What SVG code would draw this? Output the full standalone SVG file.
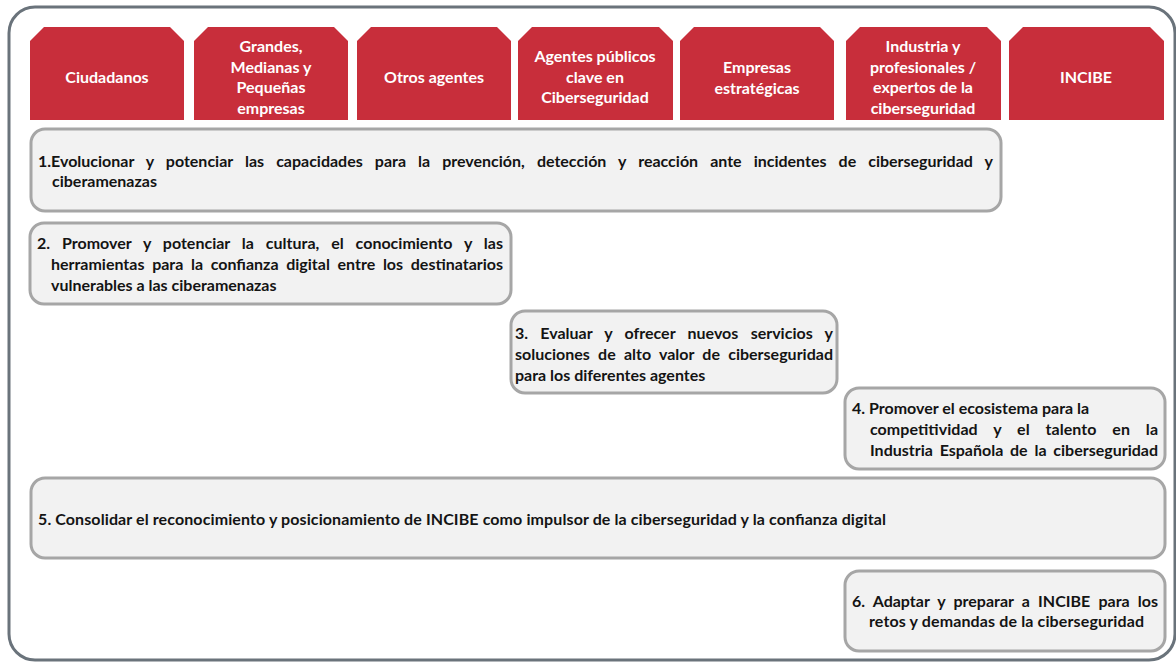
<svg xmlns="http://www.w3.org/2000/svg" width="1176" height="663" viewBox="0 0 1176 663">
<defs>
<style>
.frame{fill:#ffffff;stroke:#6a737b;stroke-width:3}
.hdr{fill:#c82e3b}
.ht{font-family:Lato,"Liberation Sans",sans-serif;font-weight:bold;font-size:16px;fill:#ffffff;text-anchor:middle}
.obj{fill:#f2f2f2;stroke:#a6a6a6;stroke-width:3}
.ot{font-family:Lato,"Liberation Sans",sans-serif;font-weight:bold;font-size:16px;fill:#141414}
</style>
</defs>
<rect class="frame" x="9" y="7" width="1166" height="653" rx="26" ry="26"/>
<g id="h1"><path class="hdr" d="M44,27 H170 L184,41 V120 H30 V41 Z"/><text class="ht" x="107" y="83">Ciudadanos</text></g>
<g id="h2"><path class="hdr" d="M208,27 H334 L348,41 V120 H194 V41 Z"/><text class="ht" x="271" y="52">Grandes,<tspan x="271" dy="20.5">Medianas y</tspan><tspan x="271" dy="20.5">Pequeñas</tspan><tspan x="271" dy="20.5">empresas</tspan></text></g>
<g id="h3"><path class="hdr" d="M371,27 H497 L511,41 V120 H357 V41 Z"/><text class="ht" x="434" y="83">Otros agentes</text></g>
<g id="h4"><path class="hdr" d="M532,27 H659 L673,41 V120 H518 V41 Z"/><text class="ht" x="595" y="62">Agentes públicos<tspan x="595" dy="20.5">clave en</tspan><tspan x="595" dy="20.5">Ciberseguridad</tspan></text></g>
<g id="h5"><path class="hdr" d="M694,27 H820 L834,41 V120 H680 V41 Z"/><text class="ht" x="757" y="73">Empresas<tspan x="757" dy="20.5">estratégicas</tspan></text></g>
<g id="h6"><path class="hdr" d="M860,27 H987 L1001,41 V120 H846 V41 Z"/><text class="ht" x="923" y="52">Industria y<tspan x="923" dy="20.5">profesionales /</tspan><tspan x="923" dy="20.5">expertos de la</tspan><tspan x="923" dy="20.5">ciberseguridad</tspan></text></g>
<g id="h7"><path class="hdr" d="M1023,27 H1150 L1164,41 V120 H1009 V41 Z"/><text class="ht" x="1086" y="83">INCIBE</text></g>
<g id="o1"><rect class="obj" x="31" y="129" width="970" height="82" rx="14"/><text class="ot" x="38" y="167" word-spacing="8.2" textLength="955" lengthAdjust="spacing">1.Evolucionar y potenciar las capacidades para la prevención, detección y reacción ante incidentes de ciberseguridad y</text><text class="ot" x="52" y="187">ciberamenazas</text></g>
<g id="o2"><rect class="obj" x="30" y="223" width="481" height="81" rx="14"/><text class="ot" x="37" y="249" word-spacing="8" textLength="466" lengthAdjust="spacing">2. Promover y potenciar la cultura, el conocimiento y las</text><text class="ot" x="51" y="270" word-spacing="3.8" textLength="452" lengthAdjust="spacing">herramientas para la confianza digital entre los destinatarios</text><text class="ot" x="51" y="291">vulnerables a las ciberamenazas</text></g>
<g id="o3"><rect class="obj" x="511" y="311" width="326" height="82" rx="14"/><text class="ot" x="515" y="339" word-spacing="8.4" textLength="318" lengthAdjust="spacing">3. Evaluar y ofrecer nuevos servicios y</text><text class="ot" x="515" y="360" word-spacing="4.3" textLength="318" lengthAdjust="spacing">soluciones de alto valor de ciberseguridad</text><text class="ot" x="515" y="381">para los diferentes agentes</text></g>
<g id="o4"><rect class="obj" x="845" y="388" width="320" height="81" rx="14"/><text class="ot" x="852" y="414">4. Promover el ecosistema para la</text><text class="ot" x="870" y="435" word-spacing="11.9" textLength="288" lengthAdjust="spacing">competitividad y el talento en la</text><text class="ot" x="870" y="456" word-spacing="2.9" textLength="288" lengthAdjust="spacing">Industria Española de la ciberseguridad</text></g>
<g id="o5"><rect class="obj" x="31" y="478" width="1134" height="80" rx="14"/><text class="ot" x="38" y="525" textLength="848" lengthAdjust="spacing">5. Consolidar el reconocimiento y posicionamiento de INCIBE como impulsor de la ciberseguridad y la confianza digital</text></g>
<g id="o6"><rect class="obj" x="845" y="571" width="320" height="80" rx="14"/><text class="ot" x="852" y="607" word-spacing="4.2" textLength="306" lengthAdjust="spacing">6. Adaptar y preparar a INCIBE para los</text><text class="ot" x="869" y="627" textLength="275" lengthAdjust="spacing">retos y demandas de la ciberseguridad</text></g>
</svg>
